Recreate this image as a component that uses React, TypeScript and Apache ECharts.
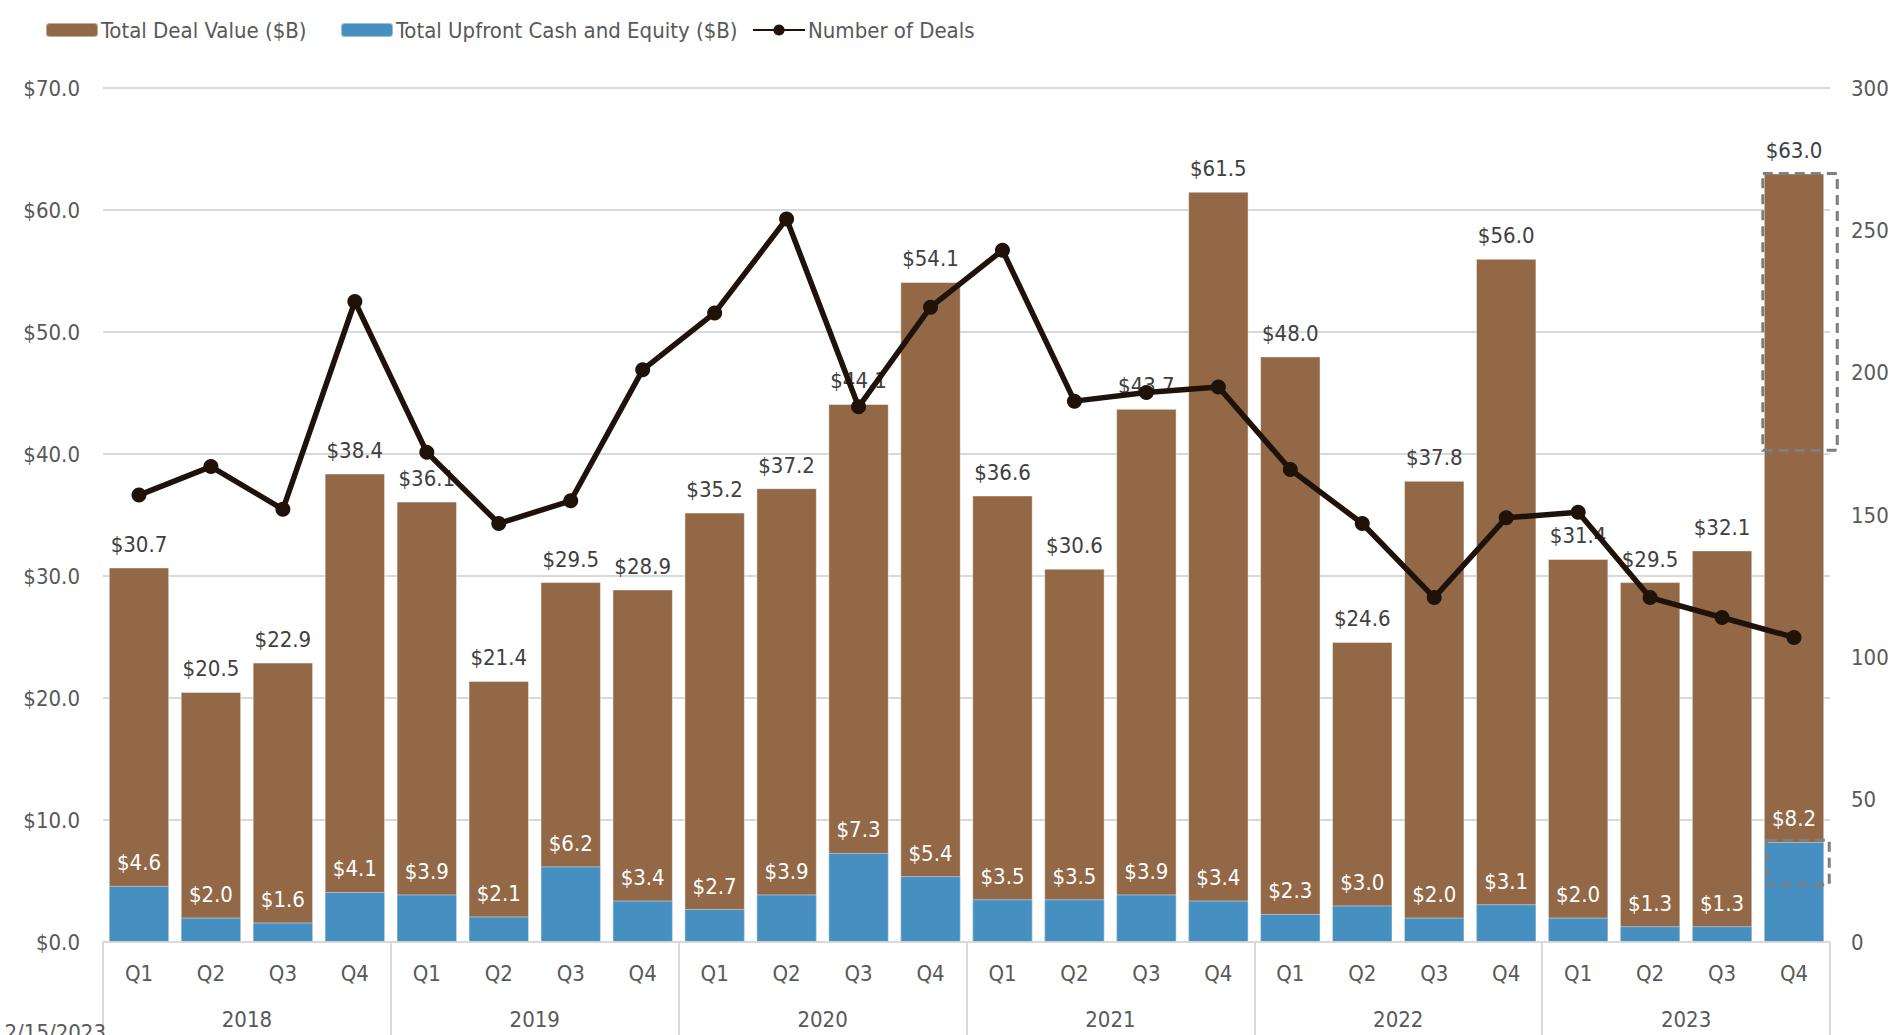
import React, { useEffect, useRef } from 'react';
import * as echarts from 'echarts';

const years = ['2018', '2019', '2020', '2021', '2022', '2023'];
const quarterLabels = [
  'Q1', 'Q2', 'Q3', 'Q4', 'Q1', 'Q2', 'Q3', 'Q4', 'Q1', 'Q2', 'Q3', 'Q4',
  'Q1', 'Q2', 'Q3', 'Q4', 'Q1', 'Q2', 'Q3', 'Q4', 'Q1', 'Q2', 'Q3', 'Q4',
];
const totalDealValue = [
  30.7, 20.5, 22.9, 38.4, 36.1, 21.4, 29.5, 28.9, 35.2, 37.2, 44.1, 54.1,
  36.6, 30.6, 43.7, 61.5, 48.0, 24.6, 37.8, 56.0, 31.4, 29.5, 32.1, 63.0,
];
const upfrontValue = [
  4.6, 2.0, 1.6, 4.1, 3.9, 2.1, 6.2, 3.4, 2.7, 3.9, 7.3, 5.4,
  3.5, 3.5, 3.9, 3.4, 2.3, 3.0, 2.0, 3.1, 2.0, 1.3, 1.3, 8.2,
];
const numberOfDeals = [
  157, 167, 152, 225, 172, 147, 155, 201, 221, 254, 188, 223,
  243, 190, 193, 195, 166, 147, 121, 149, 151, 121, 114, 107,
];
const leftAxisMax = 70;
const leftAxisInterval = 10;
const rightAxisMax = 300;
const rightAxisInterval = 50;
const highlightIndex = 23;
const highlightRanges = [
  [40.3, 63.0],
  [4.7, 8.35],
];
const footnote = '12/15/2023';

const FONT = '"DejaVu Sans Condensed", "DejaVu Sans", sans-serif';
const BROWN = '#926846';
const BLUE = '#468fc1';
const LINE = '#1f1309';
const AXIS_TEXT = '#595959';
const GRID = '#d9d9d9';

export default function App() {
  const ref = useRef<HTMLDivElement>(null);

  useEffect(() => {
    if (!ref.current) return;
    const chart = echarts.init(ref.current, null, { renderer: 'svg' });
    const money = (p: any) => '$' + Number(p.value).toFixed(1);
    const legendBase = {
      top: 19,
      padding: 0,
      itemWidth: 52,
      itemHeight: 14,
      itemGap: 0,
      textStyle: { fontFamily: FONT, fontSize: 22, color: AXIS_TEXT, padding: [0, 0, 0, -2] },
    };
    chart.setOption({
      animation: false,
      backgroundColor: '#ffffff',
      textStyle: { fontFamily: FONT },
      legend: [
        { ...legendBase, left: 45, data: ['Total Deal Value ($B)'] },
        { ...legendBase, left: 340, data: ['Total Upfront Cash and Equity ($B)'] },
        { ...legendBase, left: 752, data: ['Number of Deals'] },
      ],
      grid: { left: 103, right: 67, top: 88, bottom: 93, containLabel: false },
      xAxis: [
        {
          type: 'category',
          data: quarterLabels,
          position: 'bottom',
          axisLine: { show: true, lineStyle: { color: GRID, width: 2 } },
          axisTick: { show: false },
          axisLabel: { color: AXIS_TEXT, fontSize: 22, fontFamily: FONT, margin: 20, interval: 0 },
          splitLine: { show: false },
        },
        {
          type: 'category',
          data: years,
          position: 'bottom',
          axisLine: { show: false },
          axisTick: { show: true, length: 100, lineStyle: { color: GRID, width: 2 } },
          axisLabel: { color: AXIS_TEXT, fontSize: 22, fontFamily: FONT, margin: 66, interval: 0 },
          splitLine: { show: false },
        },
      ],
      yAxis: [
        {
          type: 'value',
          min: 0,
          max: leftAxisMax,
          interval: leftAxisInterval,
          axisLine: { show: false },
          axisTick: { show: false },
          axisLabel: {
            color: AXIS_TEXT,
            fontSize: 22,
            fontFamily: FONT,
            margin: 23,
            formatter: (v: number) => '$' + v.toFixed(1),
          },
          splitLine: { show: true, lineStyle: { color: GRID, width: 2 } },
        },
        {
          type: 'value',
          min: 0,
          max: rightAxisMax,
          interval: rightAxisInterval,
          position: 'right',
          axisLine: { show: false },
          axisTick: { show: false },
          axisLabel: { color: AXIS_TEXT, fontSize: 22, fontFamily: FONT, margin: 21 },
          splitLine: { show: false },
        },
      ],
      series: [
        {
          name: 'Total Deal Value ($B)',
          type: 'bar',
          data: totalDealValue,
          barWidth: '84%',
          barGap: '-100%',
          itemStyle: { color: BROWN, borderColor: 'rgba(255,255,255,0.45)', borderWidth: 1 },
          label: {
            show: true,
            position: 'top',
            distance: 12,
            color: '#404040',
            fontSize: 22,
            fontFamily: FONT,
            formatter: money,
          },
          z: 2,
        },
        {
          name: 'Total Upfront Cash and Equity ($B)',
          type: 'bar',
          data: upfrontValue,
          barWidth: '84%',
          barGap: '-100%',
          itemStyle: { color: BLUE, borderColor: 'rgba(255,255,255,0.45)', borderWidth: 1 },
          label: {
            show: true,
            position: 'top',
            distance: 12,
            color: '#ffffff',
            fontSize: 22,
            fontFamily: FONT,
            formatter: money,
          },
          z: 3,
        },
        {
          name: 'Number of Deals',
          type: 'line',
          yAxisIndex: 1,
          data: numberOfDeals,
          symbol: 'circle',
          symbolSize: 15,
          lineStyle: { color: LINE, width: 5.5 },
          itemStyle: { color: LINE },
          z: 5,
        },
      ],
    });

    const toPx = (i: number, v: number) =>
      chart.convertToPixel({ xAxisIndex: 0, yAxisIndex: 0 }, [i, v]) as number[];
    const band =
      (chart.convertToPixel({ xAxisIndex: 0 }, 1) as number) -
      (chart.convertToPixel({ xAxisIndex: 0 }, 0) as number);
    const barW = band * 0.84;
    const offsets = [
      [-1, 13],
      [3, 5],
    ];
    const graphics: any[] = highlightRanges.map((r, k) => {
      const [cx, yTop] = toPx(highlightIndex, r[1]);
      const [, yBot] = toPx(highlightIndex, r[0]);
      const x0 = cx - barW / 2 + offsets[k][0];
      const x1 = cx + barW / 2 + offsets[k][1];
      return {
        type: 'rect',
        shape: { x: x0, y: yTop, width: x1 - x0, height: yBot - yTop },
        style: { fill: 'none', stroke: '#7f7f7f', lineWidth: 3, lineDash: [10, 6] },
        z: 100,
      };
    });
    graphics.push({
      type: 'text',
      x: 106,
      y: 1032,
      style: {
        text: footnote,
        fontFamily: FONT,
        fontSize: 22,
        fill: AXIS_TEXT,
        textAlign: 'right',
        textVerticalAlign: 'middle',
      },
      z: 100,
    });
    chart.setOption({ graphic: graphics });

    return () => chart.dispose();
  }, []);

  return (
    <div
      ref={ref}
      style={{ position: 'absolute', left: 0, top: 0, width: 1897, height: 1035 }}
    />
  );
}
